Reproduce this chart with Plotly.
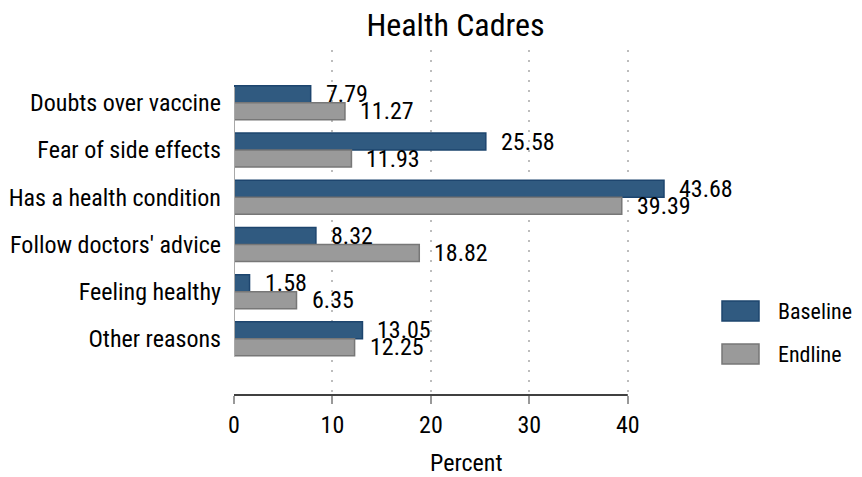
import plotly.graph_objects as go

categories = ["Doubts over vaccine", "Fear of side effects", "Has a health condition",
              "Follow doctors' advice", "Feeling healthy", "Other reasons"]
baseline = [7.79, 25.58, 43.68, 8.32, 1.58, 13.05]
endline = [11.27, 11.93, 39.39, 18.82, 6.35, 12.25]
series_names = ["Baseline", "Endline"]
x_ticks = [0, 10, 20, 30, 40]

FONT = "Liberation Sans Narrow, Arial Narrow, Roboto Condensed, sans-serif"
FS = 24
OFF = 8  # browser default body margin
W, H = 862 - 2 * OFF, 477 - OFF
# plot area in page pixels: x 234..677, y 50..395
L, T = 234 - OFF, 50 - OFF
R = W - (677 - OFF)
B = H - (395 - OFF)
PW, PH = W - L - R, H - T - B

col_base, line_base = "#305a80", "#1d456e"
col_end, line_end = "#9a9a9a", "#777777"

fig = go.Figure()
fig.add_trace(go.Bar(y=categories, x=baseline, orientation="h", name=series_names[0],
                     marker=dict(color=col_base, line=dict(color=line_base, width=1.5)),
                     showlegend=False))
fig.add_trace(go.Bar(y=categories, x=endline, orientation="h", name=series_names[1],
                     marker=dict(color=col_end, line=dict(color=line_end, width=1.5)),
                     showlegend=False))

annotations = []
for vals, ysh in ((baseline, 8.5), (endline, -8.5)):
    for c, v in zip(categories, vals):
        annotations.append(dict(x=v, y=c, xref="x", yref="y", text=f"{v:.2f}",
                                showarrow=False, xanchor="left", yanchor="middle",
                                xshift=13, yshift=ysh,
                                font=dict(family=FONT, size=FS, color="black")))

def px_x(px):
    return (px - OFF - L) / PW

def px_y(py):
    return (H - B - (py - OFF)) / PH

# legend
for name, col, lc, top in ((series_names[0], col_base, line_base, 301),
                           (series_names[1], col_end, line_end, 344)):
    fig.add_shape(type="rect", xref="paper", yref="paper",
                  x0=px_x(722), x1=px_x(759), y0=px_y(top + 20), y1=px_y(top),
                  fillcolor=col, line=dict(color=lc, width=1.5))
    annotations.append(dict(x=px_x(776), y=px_y(top + 10), xref="paper", yref="paper",
                            text=name, showarrow=False, xanchor="left", yanchor="middle",
                            font=dict(family=FONT, size=22, color="black")))

# x axis title
annotations.append(dict(x=px_x(466), y=px_y(463), xref="paper", yref="paper",
                        text="Percent", showarrow=False, xanchor="center", yanchor="middle",
                        font=dict(family=FONT, size=FS, color="black")))

# x axis line from 0 to 40
fig.add_shape(type="line", xref="x", yref="paper", x0=x_ticks[0], x1=x_ticks[-1],
              y0=0, y1=0, line=dict(color="black", width=1.6))
# bar base line
fig.add_shape(type="line", xref="x", yref="paper", x0=0, x1=0,
              y0=px_y(356), y1=px_y(87), line=dict(color="#a8a8a8", width=2))

fig.update_layout(
    width=W, height=H,
    margin=dict(l=L, r=R, t=T, b=B, autoexpand=False),
    plot_bgcolor="white", paper_bgcolor="white",
    barmode="group", bargap=0.28, bargroupgap=0,
    font=dict(family=FONT, size=FS, color="black"),
    title=dict(text="Health Cadres", x=0.5, xref="paper", xanchor="center",
               y=1 - (25 - OFF) / H, yref="container", yanchor="middle",
               font=dict(family=FONT, size=32, color="black")),
    annotations=annotations,
    xaxis=dict(range=[0, 45], tickvals=x_ticks, ticktext=[str(t) for t in x_ticks],
               showgrid=True, gridcolor="#bdbdbd", gridwidth=1.5, griddash="2px,8px",
               zeroline=False, showline=False, automargin=False,
               ticks="outside", ticklen=8, tickwidth=1.5, tickcolor="#999999",
               tickfont=dict(family=FONT, size=FS)),
    yaxis=dict(categoryorder="array", categoryarray=categories,
               range=[6.19, -1.12], showgrid=False, zeroline=False, showline=False,
               ticks="", ticklabelstandoff=12, automargin=False,
               tickfont=dict(family=FONT, size=FS)),
)

fig.write_html("out.html")
